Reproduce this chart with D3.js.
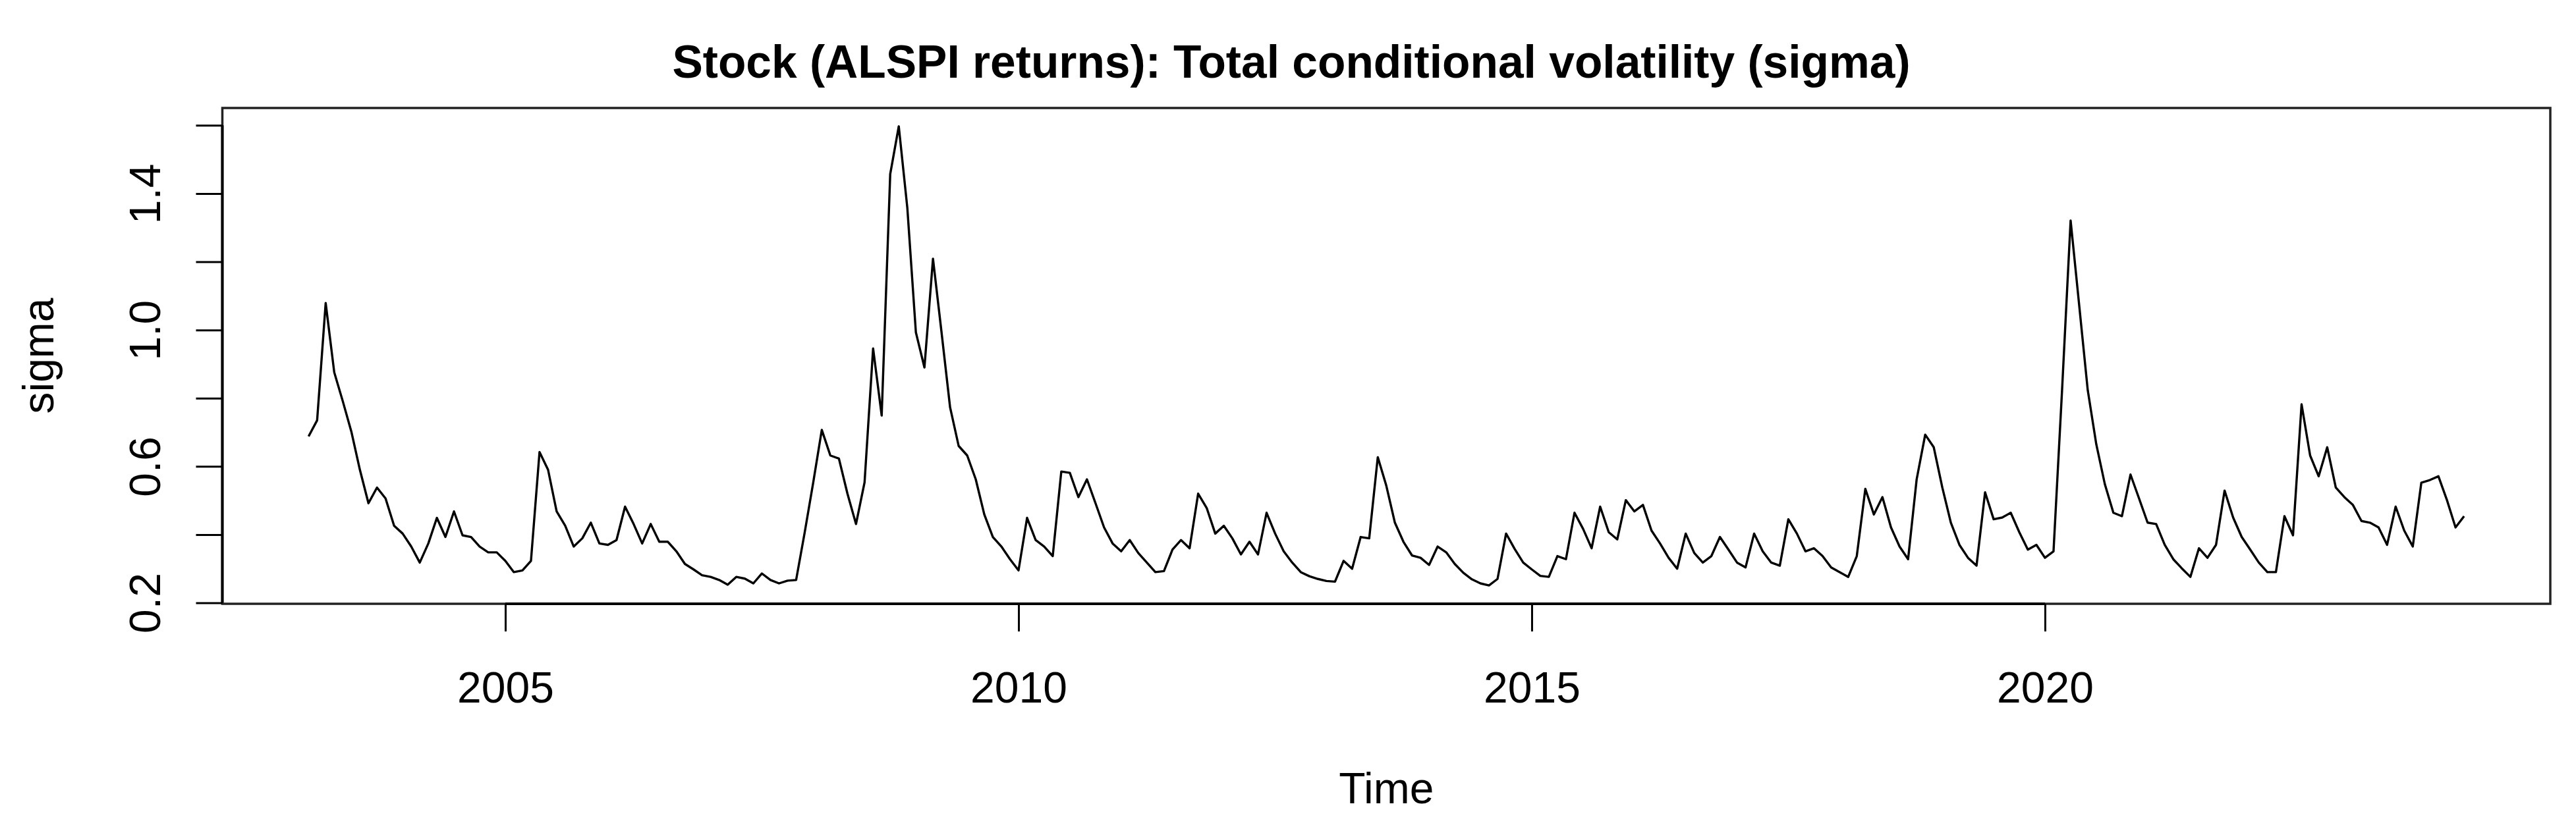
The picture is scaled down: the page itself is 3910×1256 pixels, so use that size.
<!DOCTYPE html>
<html><head><meta charset="utf-8">
<script src="https://cdn.jsdelivr.net/npm/d3@7"></script>
<style>html,body{margin:0;padding:0;background:#fff;} svg{display:block;}</style>
</head><body><svg id="chart" width="3910" height="1256"></svg>
<script>
// ---- data (monthly, starting Feb 2003) ----
const startYear = 2003;
const startMonth = 2;
const sigma = [
0.688,0.735,1.079,0.876,0.791,0.702,0.590,0.492,0.538,0.506,0.426,0.403,
0.365,0.318,0.374,0.449,0.393,0.468,0.398,0.393,0.365,0.348,0.348,0.323,
0.290,0.295,0.323,0.642,0.590,0.468,0.426,0.365,0.389,0.435,0.374,0.370,
0.384,0.482,0.431,0.374,0.431,0.379,0.379,0.351,0.314,0.298,0.281,0.276,
0.267,0.253,0.276,0.271,0.257,0.286,0.267,0.257,0.265,0.267,0.406,0.553,
0.707,0.632,0.623,0.520,0.431,0.553,0.946,0.749,1.457,1.597,1.358,0.993,
0.890,1.209,0.993,0.773,0.660,0.632,0.562,0.459,0.393,0.365,0.328,0.295,
0.449,0.384,0.365,0.337,0.585,0.581,0.510,0.562,0.492,0.421,0.374,0.351,
0.384,0.346,0.318,0.290,0.293,0.356,0.384,0.360,0.520,0.478,0.403,0.426,
0.389,0.342,0.379,0.342,0.464,0.403,0.351,0.318,0.290,0.278,0.270,0.264,
0.262,0.323,0.300,0.393,0.389,0.627,0.543,0.435,0.379,0.339,0.332,0.311,
0.365,0.348,0.314,0.288,0.269,0.257,0.251,0.270,0.403,0.358,0.318,0.298,
0.279,0.276,0.337,0.328,0.464,0.417,0.360,0.482,0.407,0.386,0.501,0.468,
0.487,0.412,0.374,0.332,0.300,0.403,0.346,0.318,0.337,0.393,0.356,0.318,
0.304,0.403,0.351,0.318,0.309,0.445,0.403,0.351,0.360,0.337,0.304,0.290,
0.276,0.337,0.534,0.459,0.510,0.421,0.365,0.328,0.562,0.693,0.656,0.538,
0.435,0.370,0.332,0.309,0.524,0.445,0.450,0.464,0.407,0.356,0.370,0.332,
0.351,0.824,1.321,1.073,0.824,0.665,0.548,0.464,0.454,0.576,0.506,0.435,
0.431,0.370,0.328,0.301,0.276,0.360,0.332,0.370,0.529,0.450,0.393,0.356,
0.318,0.290,0.290,0.454,0.398,0.782,0.632,0.571,0.656,0.538,0.510,0.487,
0.440,0.435,0.421,0.370,0.482,0.412,0.365,0.552,0.560,0.571,0.501,0.421,
0.454
];
const xTicks = [2005, 2010, 2015, 2020];
const xTickLabels = ["2005", "2010", "2015", "2020"];
const yTicks = [0.2, 0.4, 0.6, 0.8, 1.0, 1.2, 1.4, 1.6];
const yTickLabels = ["0.2", "", "0.6", "", "1.0", "", "1.4", ""];
const titleText = "Stock (ALSPI returns): Total conditional volatility (sigma)";
const xLabelText = "Time";
const yLabelText = "sigma";

// ---- layout ----
const FONT = "'Liberation Sans', Arial, Helvetica, sans-serif";
const plot = {left: 337.5, right: 3871, top: 164, bottom: 917};
const svg = d3.select("#chart");
svg.append("rect").attr("width", 3910).attr("height", 1256).attr("fill", "#fff");

const times = sigma.map((v, i) => startYear + (startMonth - 1 + i) / 12);
const t0 = times[0], t1 = times[times.length - 1];
const tr = t1 - t0;
const x = d3.scaleLinear().domain([t0 - 0.04 * tr, t1 + 0.04 * tr]).range([plot.left, plot.right]);
const vmin = d3.min(sigma), vmax = d3.max(sigma), vr = vmax - vmin;
const y = d3.scaleLinear().domain([vmin - 0.04 * vr, vmax + 0.04 * vr]).range([plot.bottom, plot.top]);

// data line
const line = d3.line().x((d, i) => x(times[i])).y(d => y(d));
svg.append("path").datum(sigma).attr("d", line)
  .attr("fill", "none").attr("stroke", "#000").attr("stroke-width", 3.4)
  .attr("stroke-linejoin", "round");

// box
svg.append("rect").attr("x", plot.left).attr("y", plot.top)
  .attr("width", plot.right - plot.left).attr("height", plot.bottom - plot.top)
  .attr("fill", "none").attr("stroke", "#222").attr("stroke-width", 3.5);

// x axis
const xAxis = d3.axisBottom(x).tickValues(xTicks).tickSize(42).tickPadding(0)
  .tickFormat((d, i) => xTickLabels[i]);
const gx = svg.append("g").attr("transform", `translate(0,${plot.bottom})`).call(xAxis);
gx.select(".domain").remove();
gx.selectAll(".tick line").attr("stroke", "#000").attr("stroke-width", 3);
gx.selectAll(".tick text").attr("y", 150).attr("dy", null)
  .attr("font-family", FONT).attr("font-size", 66).attr("fill", "#000");
gx.append("line").attr("x1", x(xTicks[0])).attr("x2", x(xTicks[xTicks.length - 1]))
  .attr("y1", 0).attr("y2", 0).attr("stroke", "#000").attr("stroke-width", 4);

// y axis
const yAxis = d3.axisLeft(y).tickValues(yTicks).tickSize(40).tickPadding(0)
  .tickFormat((d, i) => yTickLabels[i]);
const gy = svg.append("g").attr("transform", `translate(${plot.left},0)`).call(yAxis);
gy.select(".domain").remove();
gy.selectAll(".tick line").attr("stroke", "#000").attr("stroke-width", 3);
gy.selectAll(".tick text")
  .attr("x", null).attr("dy", null)
  .attr("transform", "translate(-95,0) rotate(-90)")
  .attr("text-anchor", "middle")
  .attr("font-family", FONT).attr("font-size", 66).attr("fill", "#000");
gy.append("line").attr("x1", 0).attr("x2", 0)
  .attr("y1", y(yTicks[0])).attr("y2", y(yTicks[yTicks.length - 1]))
  .attr("stroke", "#000").attr("stroke-width", 4);

// title
svg.append("text").attr("x", 1960).attr("y", 118)
  .attr("text-anchor", "middle").attr("font-family", FONT)
  .attr("font-weight", "bold").attr("font-size", 69.5).attr("fill", "#000")
  .text(titleText);

// axis titles
svg.append("text").attr("x", (plot.left + plot.right) / 2).attr("y", 1220)
  .attr("text-anchor", "middle").attr("font-family", FONT)
  .attr("font-size", 66).attr("fill", "#000").text(xLabelText);
svg.append("text")
  .attr("transform", `translate(81,${(plot.top + plot.bottom) / 2}) rotate(-90)`)
  .attr("text-anchor", "middle").attr("font-family", FONT)
  .attr("font-size", 66).attr("fill", "#000").text(yLabelText);
</script></body></html>
